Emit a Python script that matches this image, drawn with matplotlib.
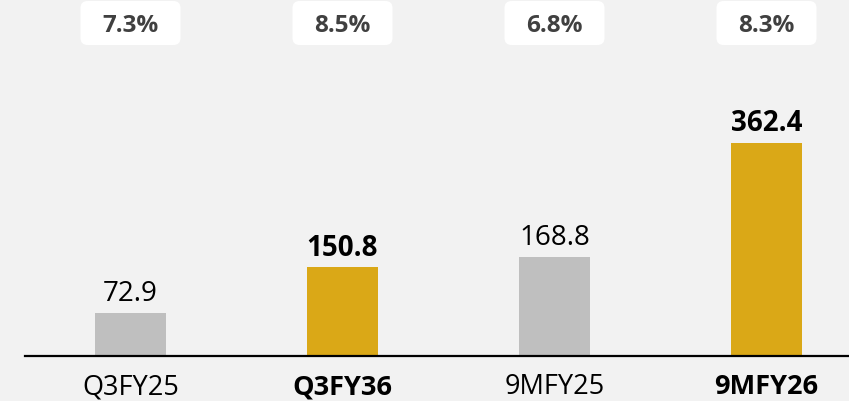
import matplotlib
matplotlib.use("Agg")
import matplotlib.pyplot as plt
from matplotlib.patches import FancyBboxPatch

plt.rcParams['font.family'] = ['Open Sans', 'DejaVu Sans']

categories = ['Q3FY25', 'Q3FY36', '9MFY25', '9MFY26']
values = [72.9, 150.8, 168.8, 362.4]
margins = ['7.3%', '8.5%', '6.8%', '8.3%']
highlight = [False, True, False, True]

gray = '#BFBFBF'
gold = '#DAA817'
bg = '#F2F2F2'

W, H = 849, 401
fig = plt.figure(figsize=(W / 100, H / 100), dpi=100, facecolor=bg)

# axes in pixels: left 25, bottom 45, top at figure top
ax_h_px = 356
ax = fig.add_axes([25 / W, 45 / H, (W - 25) / W, ax_h_px / H])
ax.set_facecolor(bg)

px_x = 1 / 212.0          # x data units per pixel
ymax = 606
px_y = ymax / ax_h_px     # y data units per pixel

x = list(range(len(categories)))
colors = [gold if h else gray for h in highlight]
ax.bar(x, values, width=71 * px_x, color=colors, zorder=2)

ax.set_xlim(-105.5 * px_x, -105.5 * px_x + (W - 25) * px_x)
ax.set_ylim(0, ymax)

for xi, v, h in zip(x, values, highlight):
    ax.annotate(f'{v:.1f}', (xi, v), xytext=(0, 8.5), textcoords='offset points',
                ha='center', va='baseline', fontsize=20,
                fontweight='bold' if h else 'normal', color='#000000')

# category labels below axis
for xi, c, h in zip(x, categories, highlight):
    ax.annotate(c, (xi, 0), xytext=(0, -27.4), textcoords='offset points',
                ha='center', va='baseline', fontsize=19.5,
                fontweight='bold' if h else 'normal', color='#000000',
                annotation_clip=False)

# margin boxes on top
box_w = 100 * px_x
box_h = 44 * px_y
box_top = ymax - 1 * px_y
for xi, m in zip(x, margins):
    r = 7 * px_x
    box = FancyBboxPatch((xi - box_w / 2, box_top - box_h), box_w, box_h,
                         boxstyle=f'round,pad=0,rounding_size={r}',
                         mutation_aspect=px_y / px_x,
                         facecolor='white', edgecolor='none', clip_on=False, zorder=3)
    ax.add_patch(box)
    ax.text(xi, ymax - 31.7 * px_y, m, ha='center', va='baseline', fontsize=17.5,
            fontweight='bold', color='#404040', zorder=4)

for s in ['top', 'right', 'left']:
    ax.spines[s].set_visible(False)
ax.spines['bottom'].set_linewidth(1.6)
ax.spines['bottom'].set_color('black')
ax.set_xticks([])
ax.set_yticks([])

fig.savefig('out.png', dpi=100, facecolor=bg)
